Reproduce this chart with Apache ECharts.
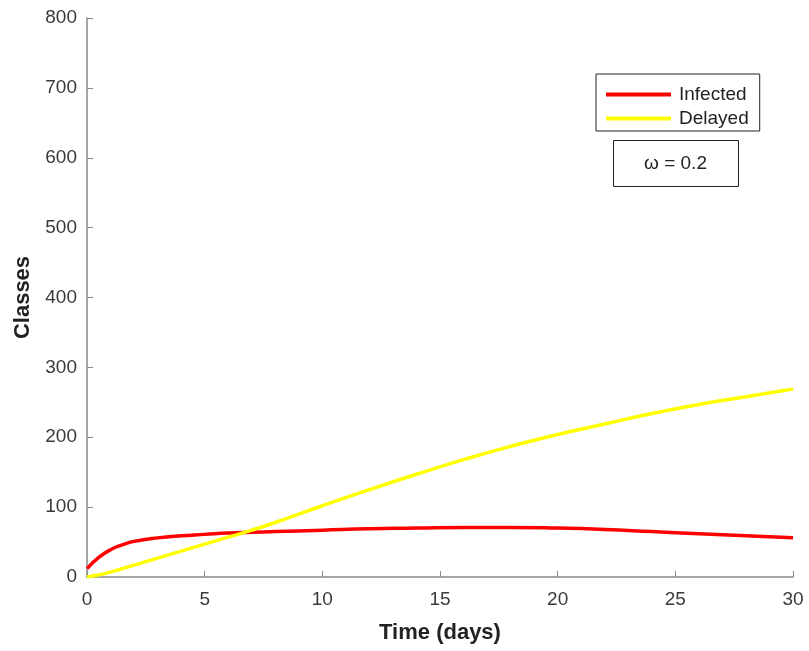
<!DOCTYPE html>
<html>
<head>
<meta charset="utf-8">
<script src="https://cdn.jsdelivr.net/npm/echarts@6/dist/echarts.min.js"></script>
<style>html,body{margin:0;padding:0;background:#fff;}#main{width:809px;height:651px;}</style>
</head>
<body>
<div id="main"></div>
<script>
// values
var days = [0, 0.5, 1, 1.5, 2, 3, 4, 5, 6, 7, 8, 10, 12, 14, 16, 18, 20, 22, 24, 26, 28, 30];
var infected = [12, 28, 39, 46, 51, 56, 59, 61, 63, 64, 65, 67, 69, 70, 71, 71, 70, 68, 65, 62, 59, 56];
var delayed = [0, 3, 7, 12, 17, 27, 37, 47, 57, 67, 78, 102, 125, 147, 168, 187, 204, 219, 234, 247, 258, 269];
var yTicks = [0, 100, 200, 300, 400, 500, 600, 700, 800];
var xTicks = [0, 5, 10, 15, 20, 25, 30];

function pairs(xs, ys) {
    return xs.map(function (x, i) { return [x, ys[i]]; });
}

var chart = echarts.init(document.getElementById('main'), null, {renderer: 'canvas'});
var axisColor = '#8a8a8a';
var font = 'Liberation Sans, Arial, sans-serif';
var labelStyle = {color: '#3a3a3a', fontSize: 19, fontFamily: font};
var titleStyle = {color: '#222', fontSize: 22, fontWeight: 'bold', fontFamily: font};

var option = {
    animation: false,
    backgroundColor: '#fff',
    grid: {left: 87, right: 16, top: 18, bottom: 74},
    xAxis: {
        type: 'value',
        min: xTicks[0],
        max: xTicks[xTicks.length - 1],
        interval: 5,
        name: 'Time (days)',
        nameLocation: 'middle',
        nameGap: 45,
        nameTextStyle: titleStyle,
        axisLine: {show: true, lineStyle: {color: axisColor, width: 1.5}},
        axisTick: {show: true, inside: true, length: 6, lineStyle: {color: axisColor}},
        axisLabel: Object.assign({margin: 13}, labelStyle),
        splitLine: {show: false}
    },
    yAxis: {
        type: 'value',
        min: yTicks[0],
        max: yTicks[yTicks.length - 1],
        interval: 100,
        name: 'Classes',
        nameLocation: 'middle',
        nameGap: 53,
        nameTextStyle: titleStyle,
        axisLine: {show: true, lineStyle: {color: axisColor, width: 1.5}},
        axisTick: {show: true, inside: true, length: 6, lineStyle: {color: axisColor}},
        axisLabel: Object.assign({margin: 10}, labelStyle),
        splitLine: {show: false}
    },
    legend: {
        orient: 'vertical',
        left: 596,
        top: 74,
        padding: [11, 11, 3, 10],
        itemGap: 5,
        itemWidth: 65,
        itemHeight: 4,
        icon: 'rect',
        backgroundColor: '#fff',
        borderColor: '#222',
        borderWidth: 1,
        textStyle: {color: '#222', fontSize: 19, fontFamily: font, padding: [0, 0, 0, 3]},
        data: ['Infected', 'Delayed']
    },
    graphic: [{
        type: 'group',
        left: 613,
        top: 140,
        children: [
            {type: 'rect', shape: {x: 0, y: 0, width: 125, height: 46}, style: {fill: '#fff', stroke: '#222', lineWidth: 1}},
            {type: 'text', style: {x: 62, y: 23, text: 'ω = 0.2', align: 'center', verticalAlign: 'middle', fill: '#222', fontSize: 19, fontFamily: font}}
        ]
    }],
    series: [
        {
            name: 'Infected',
            type: 'line',
            smooth: true,
            showSymbol: false,
            color: '#ff0000',
            lineStyle: {width: 3.5, color: '#ff0000'},
            data: pairs(days, infected)
        },
        {
            name: 'Delayed',
            type: 'line',
            smooth: true,
            showSymbol: false,
            color: '#ffff00',
            lineStyle: {width: 3.5, color: '#ffff00'},
            data: pairs(days, delayed)
        }
    ]
};
chart.setOption(option);
</script>
</body>
</html>
